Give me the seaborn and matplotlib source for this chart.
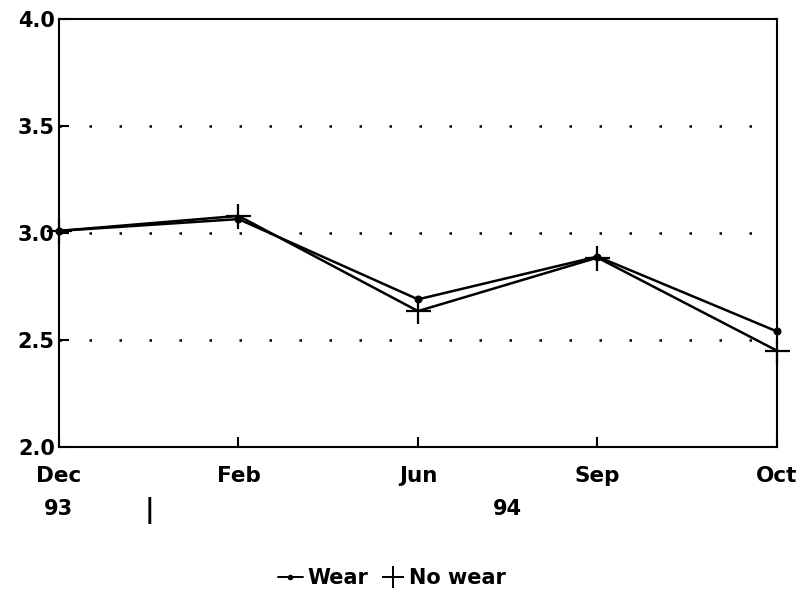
import matplotlib
matplotlib.use("Agg")
import matplotlib.pyplot as plt
import seaborn as sns
import pandas as pd
from matplotlib.lines import Line2D

months = ["Dec", "Feb", "Jun", "Sep", "Oct"]
wear = [3.01, 3.065, 2.69, 2.89, 2.54]
no_wear = [3.01, 3.08, 2.635, 2.885, 2.45]
y_ticks = [2.0, 2.5, 3.0, 3.5, 4.0]
year_labels = ["93", "94"]

sns.set_theme(style="white")
plt.rcParams["font.family"] = ["DejaVu Sans"]
plt.rcParams["font.weight"] = "bold"
plt.rcParams["text.color"] = "black"
plt.rcParams["xtick.color"] = "black"
plt.rcParams["ytick.color"] = "black"
plt.rcParams["axes.labelcolor"] = "black"

x = list(range(len(months)))
df_w = pd.DataFrame({"x": x, "value": wear})
df_n = pd.DataFrame({"x": x, "value": no_wear})

fig = plt.figure(figsize=(8.01, 5.92), dpi=100)
ax = fig.add_axes([59/801, 1 - 447/592, (777-59)/801, (447-19)/592])

sns.lineplot(data=df_w, x="x", y="value", color="black", marker="o",
             markersize=5, markeredgecolor="black", linewidth=1.8, ax=ax)
sns.lineplot(data=df_n, x="x", y="value", color="black", marker="+",
             markersize=18, markeredgecolor="black", markeredgewidth=1.6,
             linewidth=1.8, ax=ax)
for ln in ax.lines:
    ln.set_clip_on(False)

ax.set_xlim(0, len(months) - 1)
ax.set_ylim(2.0, 4.0)
ax.set_yticks(y_ticks)
ax.set_yticklabels([f"{v:.1f}" for v in y_ticks], fontsize=15, fontweight="bold")
ax.set_xticks(x)
ax.set_xticklabels(months, fontsize=15.5, fontweight="bold")
ax.tick_params(axis="both", direction="in", length=7, width=1.5, color="black",
               left=True, bottom=True, labelcolor="black")
ax.tick_params(axis="y", pad=3)
ax.tick_params(axis="x", pad=14)
for y in [2.5, 3.0, 3.5]:
    ax.axhline(y, color="black", linestyle=(0, (1, 11)), linewidth=1.8, zorder=0)
for s in ax.spines.values():
    s.set_color("black")
    s.set_linewidth(1.5)
ax.set_xlabel("")
ax.set_ylabel("")

fig.text(58/801, 1 - 509/592, year_labels[0], ha="center", va="center", fontsize=15, fontweight="bold")
fig.text(149/801, 1 - 511/592, "|", ha="center", va="center", fontsize=19, fontweight="bold")
fig.text(507/801, 1 - 509/592, year_labels[1], ha="center", va="center", fontsize=15, fontweight="bold")

handles = [Line2D([], [], color="black", marker="o", markersize=3, linewidth=1.4),
           Line2D([], [], color="black", marker="+", markersize=16, markeredgewidth=1.4, linewidth=0)]
fig.legend(handles, ["Wear", "No wear"], loc="center", bbox_to_anchor=(392/801, 1 - 578/592),
           ncol=2, frameon=False, handlelength=1.2, handletextpad=0.2,
           columnspacing=0.6, prop={"weight": "bold", "size": 15})

fig.savefig("out.png", dpi=100)
